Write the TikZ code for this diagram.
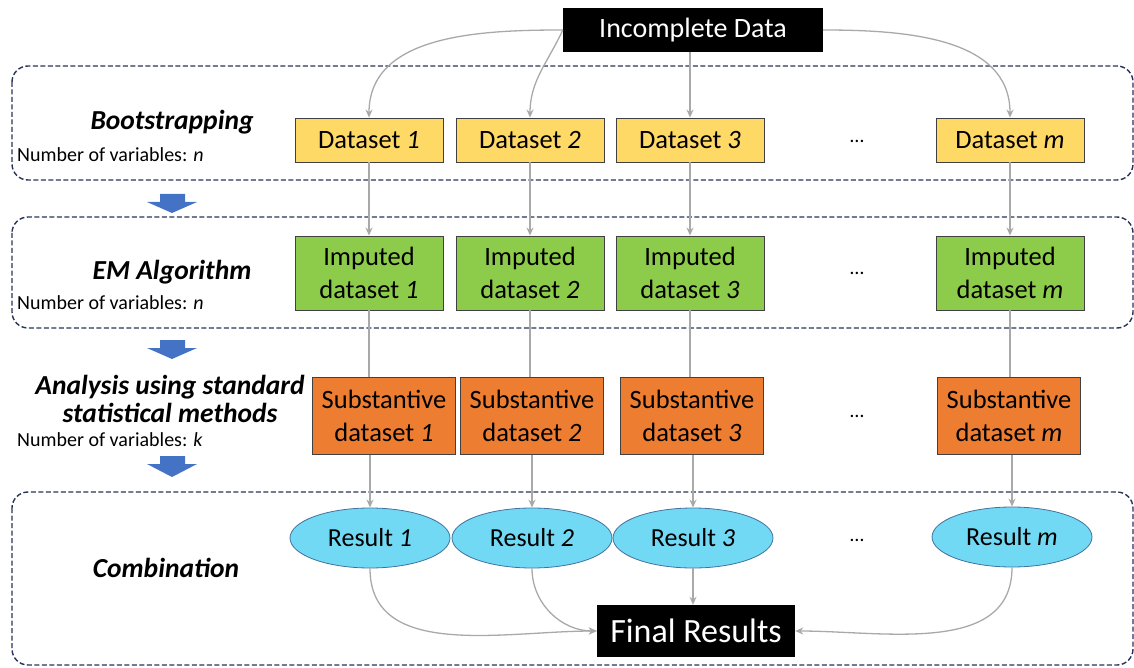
\documentclass[tikz,border=0pt]{standalone}
\usepackage{fontspec}
\setmainfont{Carlito}
\usetikzlibrary{shapes.geometric,arrows.meta}
\definecolor{dsyellow}{HTML}{FFD966}
\definecolor{impgreen}{HTML}{8DCB4A}
\definecolor{suborange}{HTML}{ED7D31}
\definecolor{rescyan}{HTML}{72D9F4}
\definecolor{navy}{HTML}{26325A}
\definecolor{bluearrow}{HTML}{4472C4}
\definecolor{conngray}{HTML}{A9A9A9}
\definecolor{ellborder}{HTML}{41719C}
\begin{document}
\begin{tikzpicture}[x=1pt,y=1pt,
  box/.style={draw=black!75, line width=0.8pt, minimum width=148pt, align=center,
    font=\fontsize{26.5}{33}\selectfont, inner sep=0pt},
  dsbox/.style={box, fill=dsyellow, minimum height=44pt},
  impbox/.style={box, fill=impgreen, minimum height=74pt},
  subbox/.style={box, fill=suborange, minimum width=143pt, minimum height=77pt},
  resbox/.style={ellipse, draw=ellborder, line width=0.8pt, fill=rescyan, minimum width=160pt,
    minimum height=60pt, inner sep=0pt, font=\fontsize{26}{30}\selectfont},
  blackbox/.style={fill=black, text=white, inner sep=0pt},
  phase/.style={draw=navy, line width=1.4pt, dash pattern=on 5pt off 2.5pt, rounded corners=16pt},
  ptitle/.style={font=\fontsize{27.5}{29}\selectfont\bfseries\itshape, align=center, inner sep=0pt},
  numvar/.style={font=\fontsize{20}{24}\selectfont, anchor=west, inner sep=0pt},
  dotsnode/.style={font=\fontsize{20}{24}\selectfont, inner sep=0pt},
  conn/.style={draw=conngray, line width=1.3pt},
  arr/.style={conn, -{Stealth[length=8pt,width=7pt]}},
  bigarrow/.style={fill=bluearrow, draw=none}
]
\useasboundingbox (0,0) rectangle (1134,-668);

% phase frames
\draw[phase] (12,-66) rectangle (1133,-180);
\draw[phase] (12,-217) rectangle (1133,-328);
\draw[phase] (12,-492) rectangle (1133,-665);

% big blue arrows
\foreach \yy/\hh in {194/19,340/19,456/21}{
  \fill[bigarrow] (160,-\yy) -- (185,-\yy) -- (185,-\yy-8) -- (197,-\yy-8) -- (172,-\yy-\hh)
     -- (147,-\yy-8) -- (160,-\yy-8) -- cycle;
}

% left labels
\node[ptitle] (t1) at (172,-122) {Bootstrapping};
\node[numvar] (n1) at (17,-155) {Number of variables: \textit{n}};
\node[ptitle] (t2) at (172,-272) {EM Algorithm};
\node[numvar] (n2) at (17,-303) {Number of variables: \textit{n}};
\node[ptitle, font=\fontsize{27.5}{28}\selectfont\bfseries\itshape] (t3) at (170,-399) {Analysis using standard\\statistical methods};
\node[numvar] (n3) at (17,-440) {Number of variables: \textit{k}};
\node[ptitle] (t4) at (166,-568) {Combination};

% top and bottom black boxes
\node[blackbox, minimum width=260pt, minimum height=44pt, font=\fontsize{28}{32}\selectfont] (inc) at (693,-30) {Incomplete Data};
\node[blackbox, minimum width=198pt, minimum height=52pt, font=\fontsize{34}{40}\selectfont] (fin) at (696,-631) {Final Results};

% datasets
\node[dsbox] (d1) at (369,-140) {Dataset \textit{1}};
\node[dsbox] (d2) at (530,-140) {Dataset \textit{2}};
\node[dsbox] (d3) at (690,-140) {Dataset \textit{3}};
\node[dsbox] (dm) at (1010,-140) {Dataset \textit{m}};
\node[dotsnode] (dd) at (857,-141) {…};

% imputed
\node[impbox] (i1) at (369,-273) {Imputed\\dataset \textit{1}};
\node[impbox] (i2) at (530,-273) {Imputed\\dataset \textit{2}};
\node[impbox] (i3) at (690,-273) {Imputed\\dataset \textit{3}};
\node[impbox] (im) at (1010,-273) {Imputed\\dataset \textit{m}};
\node[dotsnode] (id) at (857,-273) {…};

% substantive
\node[subbox] (s1) at (384,-416) {Substantive\\dataset \textit{1}};
\node[subbox] (s2) at (532,-416) {Substantive\\dataset \textit{2}};
\node[subbox] (s3) at (692,-416) {Substantive\\dataset \textit{3}};
\node[subbox] (sm) at (1009,-416) {Substantive\\dataset \textit{m}};
\node[dotsnode] (sd) at (857,-416) {…};

% results
\node[resbox] (r1) at (370,-538) {Result \textit{1}};
\node[resbox] (r2) at (532,-538) {Result \textit{2}};
\node[resbox] (r3) at (693,-538) {Result \textit{3}};
\node[resbox] (rm) at (1012,-537) {Result \textit{m}};
\node[dotsnode] (rd) at (857,-540) {…};

% connectors from Incomplete Data
\draw[arr] (inc.west) to[out=180,in=90] (d1.north);
\draw[arr] (inc.west) to[out=245,in=90] (d2.north);
\draw[arr] (d3.north |- inc.south) -- (d3.north);
\draw[arr] (inc.east) to[out=0,in=90] (dm.north);

% datasets -> imputed
\foreach \a/\b in {d1/i1,d2/i2,d3/i3,dm/im}{
  \draw[arr] (\a.south) -- (\b.north);
}
% imputed -> substantive
\foreach \a/\b in {i1/s1,i2/s2,i3/s3,im/sm}{
  \draw[conn] (\a.south) -- (\a.south |- \b.north);
}
% substantive -> results
\foreach \a/\b in {s1/r1,s2/r2,s3/r3,sm/rm}{
  \draw[arr] (\b.north |- \a.south) -- (\b.north);
}

% results -> final
\draw[arr] (r1.south) to[out=-90,in=180] (fin.west);
\draw[arr] (r2.south) to[out=-90,in=180] (fin.west);
\draw[arr] (r3.south) -- (r3.south |- fin.north);
\draw[arr] (rm.south) to[out=-90,in=0] (fin.east);
\end{tikzpicture}
\end{document}
